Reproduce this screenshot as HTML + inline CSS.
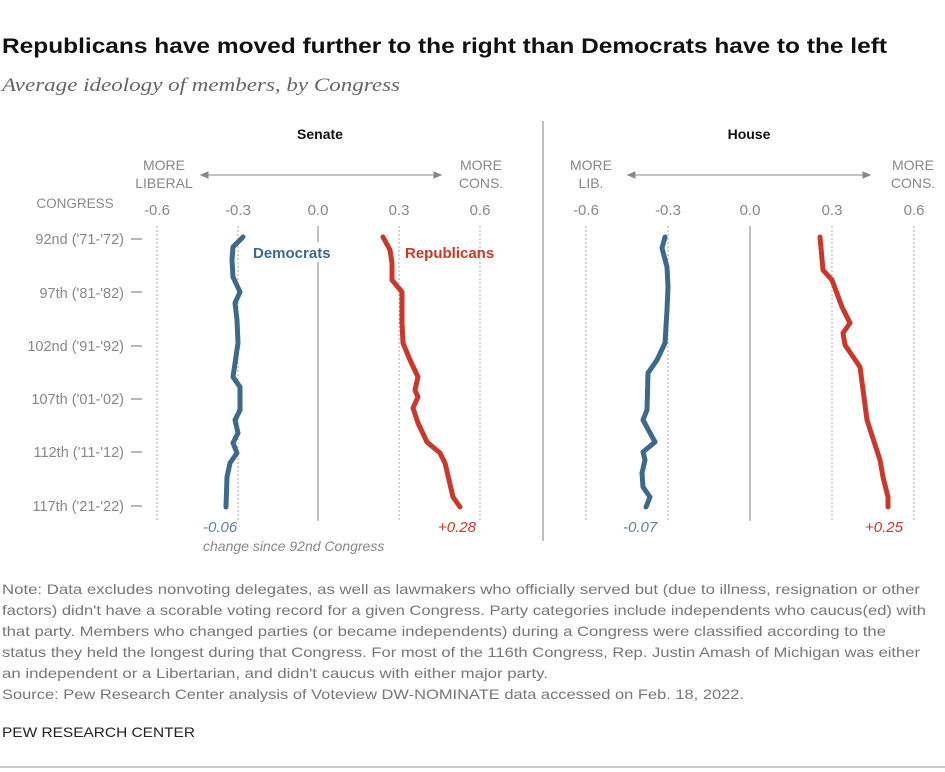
<!DOCTYPE html>
<html><head><meta charset="utf-8"><style>
html,body{margin:0;padding:0;background:#fff;}
svg{display:block;font-family:"Liberation Sans",sans-serif;}
</style></head><body>
<svg width="945" height="772" viewBox="0 0 945 772" xmlns="http://www.w3.org/2000/svg">
<rect width="945" height="772" fill="#fff"/>
<text x="2" y="53" font-size="21" font-weight="bold" fill="#111" textLength="885" lengthAdjust="spacingAndGlyphs">Republicans have moved further to the right than Democrats have to the left</text>
<text x="2" y="91" font-family="Liberation Serif,serif" font-style="italic" font-size="19" fill="#666" textLength="398" lengthAdjust="spacingAndGlyphs">Average ideology of members, by Congress</text>

<!-- divider -->
<line x1="543" y1="121" x2="543" y2="541" stroke="#aaa" stroke-width="1.5"/>

<g font-size="14" fill="#888">
<text x="320" y="139" text-anchor="middle" font-weight="bold" fill="#111">Senate</text>
<text x="749" y="139" text-anchor="middle" font-weight="bold" fill="#111">House</text>

<text x="164" y="170" text-anchor="middle">MORE</text>
<text x="164" y="188" text-anchor="middle">LIBERAL</text>
<text x="481" y="170" text-anchor="middle">MORE</text>
<text x="481" y="188" text-anchor="middle">CONS.</text>
<text x="591" y="170" text-anchor="middle">MORE</text>
<text x="591" y="188" text-anchor="middle">LIB.</text>
<text x="913" y="170" text-anchor="middle">MORE</text>
<text x="913" y="188" text-anchor="middle">CONS.</text>
<text x="75" y="208" text-anchor="middle" font-size="13.5">CONGRESS</text>

<g font-size="15" text-anchor="middle">
<text x="157" y="215">-0.6</text><text x="238" y="215">-0.3</text><text x="318" y="215">0.0</text><text x="399" y="215">0.3</text><text x="480" y="215">0.6</text>
<text x="586" y="215">-0.6</text><text x="668" y="215">-0.3</text><text x="750" y="215">0.0</text><text x="832" y="215">0.3</text><text x="914" y="215">0.6</text>
</g>
<g font-size="14.5" text-anchor="end">
<text x="124" y="244">92nd ('71-'72)</text>
<text x="124" y="298">97th ('81-'82)</text>
<text x="124" y="351">102nd ('91-'92)</text>
<text x="124" y="404">107th ('01-'02)</text>
<text x="124" y="457">112th ('11-'12)</text>
<text x="124" y="511">117th ('21-'22)</text>
</g>
</g>
<g stroke="#888" stroke-width="1.2">
<line x1="131" y1="239" x2="142" y2="239"/><line x1="131" y1="292" x2="142" y2="292"/><line x1="131" y1="346" x2="142" y2="346"/><line x1="131" y1="399" x2="142" y2="399"/><line x1="131" y1="452" x2="142" y2="452"/><line x1="131" y1="506" x2="142" y2="506"/>
</g>
<!-- arrows -->
<g stroke="#888" stroke-width="1" fill="#888">
<line x1="205" y1="175" x2="437" y2="175"/><path d="M201 175 l7 -3 v6z"/><path d="M441 175 l-7 -3 v6z"/>
<line x1="632" y1="175" x2="866" y2="175"/><path d="M628 175 l7 -3 v6z"/><path d="M870 175 l-7 -3 v6z"/>
</g>
<!-- gridlines -->
<g stroke="#aaa" stroke-width="1" stroke-dasharray="2,2">
<line x1="157" y1="226" x2="157" y2="521"/><line x1="238" y1="226" x2="238" y2="521"/><line x1="399" y1="226" x2="399" y2="521"/><line x1="480" y1="226" x2="480" y2="521"/>
<line x1="586" y1="226" x2="586" y2="521"/><line x1="668" y1="226" x2="668" y2="521"/><line x1="832" y1="226" x2="832" y2="521"/><line x1="914" y1="226" x2="914" y2="521"/>
</g>
<g stroke="#aaa" stroke-width="1.5">
<line x1="318" y1="226" x2="318" y2="242"/><line x1="318" y1="262" x2="318" y2="521"/>
<line x1="750" y1="226" x2="750" y2="521"/>
</g>
<!-- series -->
<g fill="none" stroke-width="5" stroke-linecap="round" stroke-linejoin="round">
<polyline stroke="#3d6a8b" points="243,237 233,247 232,260 233,277 240,292 235,303 237,320 238,343 233,377 240,387 240,410 235,420 238,433 233,443 237,453 230,463 227,477 226,507"/>
<polyline stroke="#c8392b" points="383,237 390,250 392,263 392,280 402,292 402,323 403,343 410,360 418,377 415,390 418,397 413,408 418,423 427,442 440,453 445,463 453,497 460,507"/>
<polyline stroke="#3d6a8b" points="665,237 662,248 667,267 668,287 667,310 665,343 657,360 648,373 647,410 643,420 655,442 643,452 645,460 642,473 643,487 650,497 646,507"/>
<polyline stroke="#c8392b" points="820,237 823,270 832,280 842,307 850,323 843,333 845,345 860,367 867,420 880,460 883,477 888,497 888,507"/>
</g>
<text x="253" y="258" font-size="15" font-weight="bold" fill="#3d6a8b">Democrats</text>
<text x="405" y="258" font-size="15" font-weight="bold" fill="#c8392b">Republicans</text>

<g font-size="15" font-style="italic">
<text x="203" y="532" fill="#5a86a6">-0.06</text>
<text x="438" y="532" fill="#c8392b">+0.28</text>
<text x="623" y="532" fill="#5a86a6">-0.07</text>
<text x="865" y="532" fill="#c8392b">+0.25</text>
<text x="203" y="551" fill="#888" font-size="14">change since 92nd Congress</text>
</g>

<g font-size="14" fill="#777">
<text x="2" y="594" textLength="918" lengthAdjust="spacingAndGlyphs">Note: Data excludes nonvoting delegates, as well as lawmakers who officially served but (due to illness, resignation or other</text>
<text x="2" y="615" textLength="924" lengthAdjust="spacingAndGlyphs">factors) didn't have a scorable voting record for a given Congress. Party categories include independents who caucus(ed) with</text>
<text x="2" y="636" textLength="884" lengthAdjust="spacingAndGlyphs">that party. Members who changed parties (or became independents) during a Congress were classified according to the</text>
<text x="2" y="657" textLength="918" lengthAdjust="spacingAndGlyphs">status they held the longest during that Congress. For most of the 116th Congress, Rep. Justin Amash of Michigan was either</text>
<text x="2" y="678" textLength="546" lengthAdjust="spacingAndGlyphs">an independent or a Libertarian, and didn't caucus with either major party.</text>
<text x="2" y="699" textLength="742" lengthAdjust="spacingAndGlyphs">Source: Pew Research Center analysis of Voteview DW-NOMINATE data accessed on Feb. 18, 2022.</text>
<text x="2" y="737" fill="#222" textLength="193" lengthAdjust="spacingAndGlyphs">PEW RESEARCH CENTER</text>
</g>
<line x1="0" y1="767" x2="945" y2="767" stroke="#ccc" stroke-width="2"/>
</svg>
</body></html>
